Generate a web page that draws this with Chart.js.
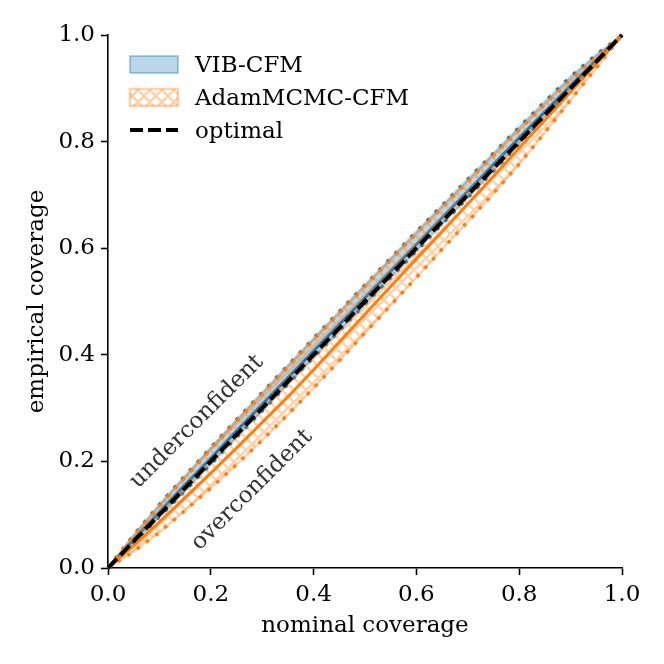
<!DOCTYPE html>
<html><head><meta charset="utf-8">
<script src="https://cdn.jsdelivr.net/npm/chart.js@4.4.0/dist/chart.umd.min.js"></script>
<style>html,body{margin:0;padding:0;background:#fff;}#wrap{width:664px;height:664px;}</style>
</head><body><div id="wrap"><canvas id="c" width="664" height="664"></canvas></div>
<script>
// ---- data ----
const nominal   = [0, 0.05, 0.10, 0.15, 0.20, 0.25, 0.30, 0.35, 0.40, 0.45, 0.50, 0.55, 0.60, 0.65, 0.70, 0.75, 0.80, 0.85, 0.90, 0.95, 1.00];
const vibUpper  = [0, 0.062, 0.119, 0.173, 0.226, 0.278, 0.329, 0.380, 0.431, 0.481, 0.531, 0.581, 0.631, 0.680, 0.729, 0.778, 0.827, 0.875, 0.922, 0.963, 1.0];
const vibMedian = [0, 0.054, 0.105, 0.156, 0.206, 0.257, 0.307, 0.357, 0.407, 0.457, 0.507, 0.557, 0.607, 0.657, 0.707, 0.757, 0.807, 0.856, 0.905, 0.953, 1.0];
const vibLower  = [0, 0.047, 0.096, 0.145, 0.195, 0.245, 0.295, 0.345, 0.395, 0.445, 0.495, 0.545, 0.595, 0.645, 0.695, 0.745, 0.796, 0.846, 0.897, 0.948, 1.0];
const adamUpper = [0, 0.060, 0.116, 0.170, 0.223, 0.275, 0.326, 0.377, 0.428, 0.478, 0.528, 0.578, 0.627, 0.676, 0.725, 0.774, 0.822, 0.870, 0.916, 0.958, 1.0];
const adamMedian= [0, 0.042, 0.086, 0.132, 0.178, 0.225, 0.273, 0.321, 0.372, 0.424, 0.476, 0.528, 0.580, 0.631, 0.683, 0.735, 0.788, 0.840, 0.893, 0.946, 1.0];
const adamLower = [0, 0.031, 0.067, 0.108, 0.150, 0.194, 0.240, 0.288, 0.338, 0.389, 0.441, 0.493, 0.545, 0.598, 0.650, 0.703, 0.758, 0.817, 0.878, 0.938, 1.0];
const optimalX  = [0, 1];
const optimalY  = [0, 1];
const tickValues = [0, 0.2, 0.4, 0.6, 0.8, 1.0];
const tickLabels = ['0.0', '0.2', '0.4', '0.6', '0.8', '1.0'];
const legendLabels = ['VIB-CFM', 'AdamMCMC-CFM', 'optimal'];
const annotationTexts = ['underconfident', 'overconfident'];
const xTitle = 'nominal coverage';
const yTitle = 'empirical coverage';

// ---- styles ----
const BLUE = '#1f77b4', ORANGE = '#ff7f0e';
const BLUE_A = 'rgba(31,119,180,0.3)', ORANGE_A = 'rgba(255,127,14,0.35)';
const FONT = "'DejaVu Serif', 'Liberation Serif', serif";
const FS = 23;

function makeHatch() {
  const t = 12, cv = document.createElement('canvas');
  cv.width = t; cv.height = t;
  const g = cv.getContext('2d');
  g.strokeStyle = ORANGE_A;
  g.lineWidth = 2.6;
  g.beginPath();
  for (const dx of [-t, 0, t]) {
    g.moveTo(dx - 1, -1); g.lineTo(dx + t + 1, t + 1);
    g.moveTo(dx - 1, t + 1); g.lineTo(dx + t + 1, -1);
  }
  g.stroke();
  return g.createPattern(cv, 'repeat');
}
const ctx = document.getElementById('c').getContext('2d');
const hatch = makeHatch();

const pts = arr => nominal.map((x, i) => ({x: x, y: arr[i]}));
const dotted = {borderDash: [3.5, 8], borderWidth: 3.5, borderCapStyle: 'butt'};
const edge = {borderWidth: 2.5, fill: false};

const datasets = [
  Object.assign({label: 'vibLowerEdge', data: pts(vibLower), borderColor: BLUE_A, order: 12}, edge),
  Object.assign({label: 'vibLower', data: pts(vibLower), borderColor: BLUE, fill: false, order: 11}, dotted),
  Object.assign({label: 'vibUpper', data: pts(vibUpper), borderColor: BLUE, fill: 1, backgroundColor: BLUE_A, order: 9}, dotted),
  {label: 'vibMedian', data: pts(vibMedian), borderColor: BLUE, borderWidth: 3, fill: false, order: 8},
  Object.assign({label: 'adamLowerEdge', data: pts(adamLower), borderColor: ORANGE_A, order: 7.5}, edge),
  Object.assign({label: 'adamLower', data: pts(adamLower), borderColor: ORANGE, fill: false, order: 7}, dotted),
  Object.assign({label: 'adamUpper', data: pts(adamUpper), borderColor: ORANGE, fill: 5, backgroundColor: hatch, order: 6}, dotted),
  {label: 'adamMedian', data: pts(adamMedian), borderColor: ORANGE, borderWidth: 3, fill: false, order: 5},
  Object.assign({label: 'adamUpperEdge', data: pts(adamUpper), borderColor: ORANGE_A, order: 6.5}, edge),
  Object.assign({label: 'vibUpperEdge', data: pts(vibUpper), borderColor: BLUE_A, order: 9.5}, edge),
  {label: 'optimal', data: optimalX.map((x, i) => ({x: x, y: optimalY[i]})), borderColor: '#000', borderWidth: 4, borderDash: [13, 5], fill: false, order: 1}
];
datasets.forEach(d => { d.pointRadius = 0; d.pointHoverRadius = 0; d.tension = 0; d.clip = false; });

const overlay = {
  id: 'overlay',
  afterDatasetsDraw(chart) {
    const c = chart.ctx, a = chart.chartArea, xs = chart.scales.x, ys = chart.scales.y;
    c.save();
    c.font = FS + 'px ' + FONT;
    c.fillStyle = '#333';
    c.textAlign = 'center'; c.textBaseline = 'middle';
    const annPos = [[0.1726, 0.2745], [0.2802, 0.1463]];
    annotationTexts.forEach((t, i) => {
      c.save();
      c.translate(xs.getPixelForValue(annPos[i][0]), ys.getPixelForValue(annPos[i][1]));
      c.rotate(-Math.PI / 4);
      c.fillText(t, 0, 0);
      c.restore();
    });
    const lx = a.left + 22, iw = 48;
    const base = [a.top + 37, a.top + 70, a.top + 103];
    c.fillStyle = BLUE_A;
    c.fillRect(lx, base[0] - 16, iw, 17);
    c.strokeStyle = 'rgba(31,119,180,0.35)'; c.lineWidth = 2;
    c.strokeRect(lx, base[0] - 16, iw, 17);
    c.fillStyle = hatch;
    c.fillRect(lx, base[1] - 16, iw, 17);
    c.strokeStyle = ORANGE_A; c.lineWidth = 2.5;
    c.strokeRect(lx, base[1] - 16, iw, 17);
    c.strokeStyle = '#000'; c.lineWidth = 4; c.setLineDash([13, 5]);
    c.beginPath(); c.moveTo(lx, base[2] - 8); c.lineTo(lx + iw, base[2] - 8); c.stroke();
    c.setLineDash([]);
    c.fillStyle = '#000'; c.textAlign = 'left'; c.textBaseline = 'alphabetic';
    legendLabels.forEach((t, i) => c.fillText(t, lx + 65, base[i]));
    c.restore();
  }
};

function axis(pos, titleText) {
  return {
    type: 'linear', position: pos, min: 0, max: 1,
    afterBuildTicks: s => { s.ticks = tickValues.map(v => ({value: v})); },
    ticks: {
      autoSkip: false, maxRotation: 0, color: '#000', padding: 6,
      font: {family: FONT, size: FS},
      callback: v => { const i = tickValues.findIndex(t => Math.abs(t - v) < 1e-9); return i >= 0 ? tickLabels[i] : ''; }
    },
    grid: {display: true, drawOnChartArea: false, drawTicks: true, tickLength: 7, tickWidth: 1.6, tickColor: '#000'},
    border: {display: true, color: '#000', width: 1.6},
    title: {display: true, text: titleText, color: '#000', font: {family: FONT, size: FS},
      padding: pos === 'bottom' ? {top: 0, bottom: 24} : {top: 23, bottom: 0}},
    afterFit: s => { if (pos === 'bottom') s.height = 96; else s.width = 108; }
  };
}

new Chart(ctx, {
  type: 'line',
  data: {datasets: datasets},
  options: {
    responsive: false, animation: false, devicePixelRatio: 1,
    layout: {padding: {left: 0, right: 42, top: 35, bottom: 0}},
    plugins: {legend: {display: false}, tooltip: {enabled: false}},
    scales: {x: axis('bottom', xTitle), y: axis('left', yTitle)}
  },
  plugins: [overlay]
});
</script></body></html>
